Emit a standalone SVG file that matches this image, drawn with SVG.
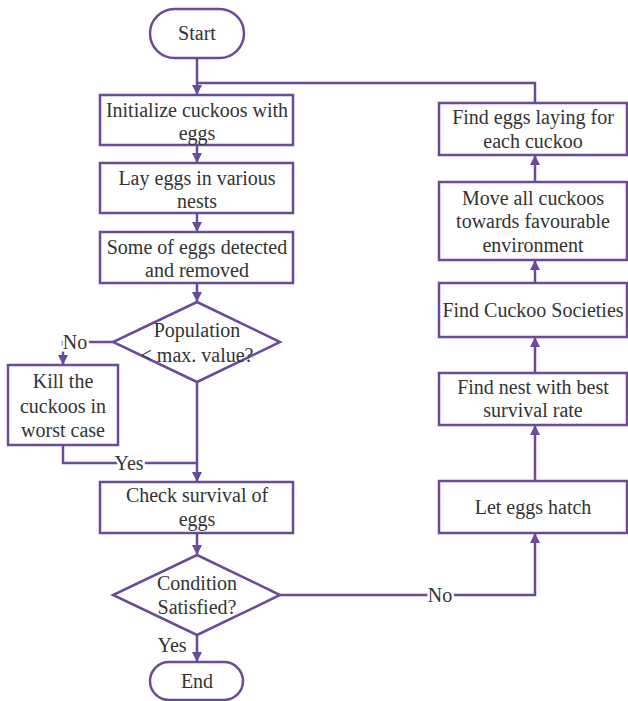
<svg xmlns="http://www.w3.org/2000/svg" width="628" height="701" viewBox="0 0 628 701">
<defs>
<marker id="ah" viewBox="0 0 10 10" refX="9" refY="5" markerWidth="4" markerHeight="4" orient="auto" markerUnits="strokeWidth">
<path d="M0,0 L10,5 L0,10 z" fill="#6a4a9a"/>
</marker>
<style>
.n{fill:#fff;stroke:#6a4a9a;stroke-width:2.5}
.t{font-size:20px;fill:#333;text-anchor:middle}
.c{fill:none;stroke:#6a4a9a;stroke-width:2.5}
.a{marker-end:url(#ah)}
.l{font-size:20px;fill:#333;text-anchor:middle;stroke:#fff;stroke-width:5;paint-order:stroke}
</style>
</defs>
<rect width="628" height="701" fill="#fff"/>
<g font-family="Liberation Serif, Times New Roman, Times, serif">
<g id="connectors">
<path class="c a" d="M197,58 V94"/>
<path class="c" d="M197,83 H535 V103"/>
<path class="c a" d="M197,145 V162"/>
<path class="c a" d="M197,213 V231"/>
<path class="c a" d="M197,283 V301"/>
<path class="c a" d="M113,342 H63 V364"/>
<path class="c a" d="M197,382 V481"/>
<path class="c" d="M63,445 V463 H197"/>
<path class="c a" d="M197,533 V554"/>
<path class="c a" d="M197,635 V661"/>
<path class="c a" d="M280,595 H535 V534"/>
<path class="c a" d="M535,481 V426"/>
<path class="c a" d="M535,373 V338"/>
<path class="c a" d="M535,283 V261"/>
<path class="c a" d="M535,182 V156"/>
<text class="l" x="75" y="349">No</text>
<text class="l" x="129" y="470">Yes</text>
<text class="l" x="440" y="602">No</text>
<text class="l" x="172" y="652">Yes</text>
</g>
<g id="start"><rect class="n" x="150" y="9" width="94" height="49" rx="24.5"/><text class="t" x="197" y="40">Start</text></g>
<g id="init"><rect class="n" x="100" y="95" width="193" height="50"/><text class="t" x="197" y="117">Initialize cuckoos with</text><text class="t" x="197" y="140">eggs</text></g>
<g id="lay"><rect class="n" x="100" y="163" width="193" height="50"/><text class="t" x="197" y="185">Lay eggs in various</text><text class="t" x="197" y="208">nests</text></g>
<g id="detect"><rect class="n" x="100" y="232" width="193" height="51"/><text class="t" x="197" y="254">Some of eggs detected</text><text class="t" x="197" y="277">and removed</text></g>
<g id="population"><path class="n" d="M197,302 L280,342 L197,382 L113,342 Z"/><text class="t" x="197" y="337">Population</text><text class="t" x="197" y="362">&lt; max. value?</text></g>
<g id="kill"><rect class="n" x="8" y="365" width="110" height="80"/><text class="t" x="63" y="388">Kill the</text><text class="t" x="63" y="413">cuckoos in</text><text class="t" x="63" y="437">worst case</text></g>
<g id="check"><rect class="n" x="100" y="482" width="193" height="51"/><text class="t" x="197" y="502">Check survival of</text><text class="t" x="197" y="526">eggs</text></g>
<g id="condition"><path class="n" d="M197,555 L280,595 L197,635 L113,595 Z"/><text class="t" x="197" y="590">Condition</text><text class="t" x="197" y="614">Satisfied?</text></g>
<g id="end"><rect class="n" x="150" y="662" width="93" height="38" rx="19"/><text class="t" x="197" y="688">End</text></g>
<g id="findeggs"><rect class="n" x="439" y="103" width="188" height="52"/><text class="t" x="533" y="124">Find eggs laying for</text><text class="t" x="533" y="148">each cuckoo</text></g>
<g id="move"><rect class="n" x="439" y="182" width="188" height="78"/><text class="t" x="533" y="205">Move all cuckoos</text><text class="t" x="533" y="228">towards favourable</text><text class="t" x="533" y="252">environment</text></g>
<g id="societies"><rect class="n" x="439" y="283" width="188" height="54"/><text class="t" x="533" y="317">Find Cuckoo Societies</text></g>
<g id="nest"><rect class="n" x="439" y="373" width="188" height="52"/><text class="t" x="533" y="394">Find nest with best</text><text class="t" x="533" y="417">survival rate</text></g>
<g id="hatch"><rect class="n" x="439" y="481" width="188" height="52"/><text class="t" x="533" y="514">Let eggs hatch</text></g>
</g>
</svg>
